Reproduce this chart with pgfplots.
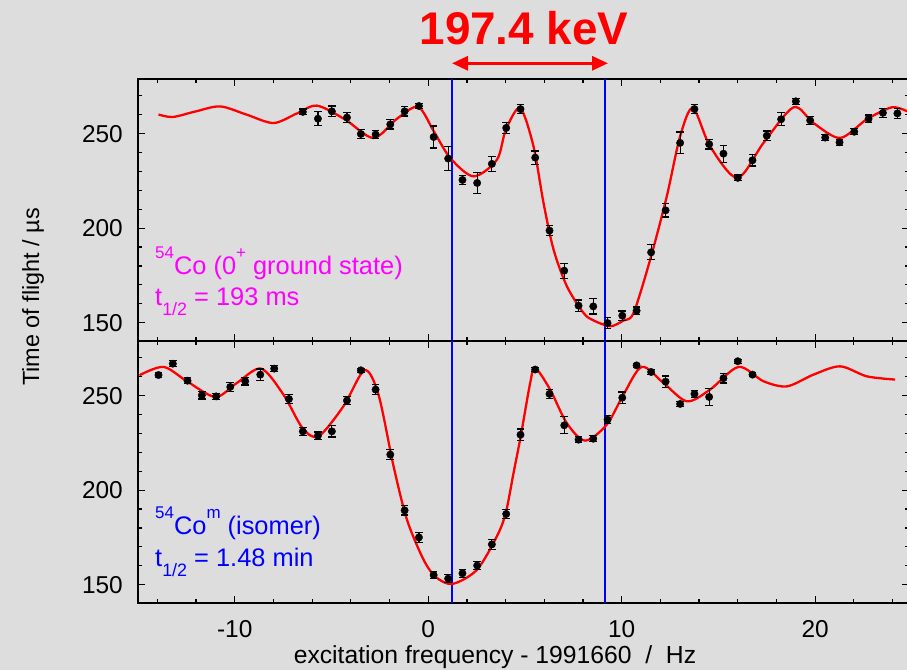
\documentclass[border=0pt]{standalone}
\usepackage{fontspec}
\setmainfont{Liberation Sans}
\usepackage{pgfplots}
\pgfplotsset{compat=1.18}
\usepackage{pgfplotstable}
\usetikzlibrary{arrows.meta}

\definecolor{bggray}{RGB}{221,221,221}
\definecolor{fitred}{RGB}{255,0,0}
\definecolor{lineblue}{RGB}{0,0,255}
\definecolor{gsmag}{RGB}{255,0,255}

\newcommand\fs[1]{\fontsize{#1}{#1}\selectfont}
\newcommand\sups[1]{\raisebox{0.66em}{\fs{17}#1}}
\newcommand\subs[1]{\raisebox{-0.36em}{\fs{18}#1}}

% ground state (top panel)
\pgfplotstableread{
x      y      e
-6.48  261.5  1.5
-5.70  257.9  3.7
-4.98  261.8  2.8
-4.20  258.5  2.5
-3.48  249.8  2.5
-2.72  249.5  2.0
-1.96  254.9  2.5
-1.22  261.8  2.5
-0.48  264.6  1.5
0.28   248.2  5.8
1.03   236.8  6.4
1.77   225.5  2.5
2.53   223.9  5.5
3.29   234.0  4.0
4.03   253.0  3.0
4.77   263.0  2.5
5.53   237.3  3.5
6.27   198.7  2.5
7.03   177.5  4.0
7.77   159.0  3.0
8.53   158.6  4.0
9.27   149.8  3.0
10.03  153.7  2.5
10.77  156.3  2.0
11.52  187.2  4.0
12.27  209.4  3.5
13.02  245.1  5.8
13.76  263.0  2.5
14.52  244.4  2.5
15.26  239.4  4.5
16.00  226.6  1.5
16.76  235.9  3.0
17.50  248.9  2.5
18.24  257.6  3.5
19.00  267.1  1.5
19.74  257.0  2.0
20.52  247.9  1.5
21.26  245.4  1.5
22.02  251.0  1.5
22.76  257.8  2.0
23.50  261.0  2.5
24.25  260.7  2.5
}\topdata

% isomer (bottom panel)
\pgfplotstableread{
x      y      e
-13.94 260.9  1.5
-13.20 266.9  1.5
-12.44 257.9  1.5
-11.70 250.2  2.0
-10.96 249.6  1.5
-10.23 254.6  2.5
-9.46  257.6  2.0
-8.68  261.1  3.0
-7.96  264.3  1.5
-7.20  248.2  2.5
-6.48  231.1  2.0
-5.70  228.8  2.0
-4.98  231.1  3.0
-4.20  247.4  2.0
-3.48  263.4  1.0
-2.72  253.2  2.5
-1.96  218.8  2.5
-1.22  189.3  2.5
-0.48  175.0  2.5
0.28   155.1  2.0
1.03   153.2  2.0
1.77   156.0  2.0
2.53   160.1  2.0
3.29   171.3  2.5
4.03   187.4  2.5
4.77   229.3  3.0
5.53   263.8  1.0
6.27   250.9  2.5
7.03   234.3  4.5
7.77   226.7  1.5
8.53   227.2  1.5
9.27   237.3  2.0
10.03  248.9  3.0
10.77  266.0  1.0
11.52  262.5  1.5
12.27  257.4  3.0
13.02  245.6  1.5
13.76  250.9  2.0
14.52  249.3  4.5
15.26  259.2  2.5
16.00  268.2  1.0
16.76  261.1  1.0
}\botdata

\pgfplotsset{
  panel/.style={
    scale only axis, width=771bp, height=262bp,
    xmin=-15, xmax=24.85, ymin=140.3, ymax=278.9,
    axis line style={line width=1.5bp, black},
    major tick length=7bp, minor tick length=4bp,
    every tick/.style={black, line width=1.2bp},
    xtick={-10,0,10,20},
    minor xtick={-14,-12,-8,-6,-4,-2,2,4,6,8,12,14,16,18,22,24},
    ytick={150,200,250},
    minor ytick={160,170,180,190,210,220,230,240,260,270},
    yticklabels={150,200,250},
    yticklabel style={anchor=east, inner sep=0pt, xshift=-15bp, font=\fs{24.5}},
  },
  datapts/.style={
    only marks, mark=*, mark size=3.7bp, black, mark options={fill=black},
    error bars/.cd, y dir=both, y explicit,
    error bar style={line width=1.2bp, black},
    error mark options={rotate=90, mark size=3.8bp, line width=1.2bp, black},
  },
  fit/.style={fitred, line width=2.3bp, smooth, no markers},
  marker line/.style={lineblue, line width=2.1bp, no markers},
}

\begin{document}
\begin{tikzpicture}
\useasboundingbox (0,0) rectangle (907bp,670bp);
\fill[bggray] (0,0) rectangle (907bp,670bp);
\clip (0,0) rectangle (907bp,670bp);

\begin{axis}[panel, at={(138bp,591bp)}, anchor=north west, xticklabels={}]
  \addplot[marker line] coordinates {(1.25,140.3) (1.25,278.9)};
  \addplot[marker line] coordinates {(9.15,140.3) (9.15,278.9)};
  \addplot[fit] coordinates {
    (-13.94,260.1) (-13.2,258.8) (-12.0,261.8) (-10.75,264.4) (-9.4,260.1)
    (-8.0,255.6) (-6.8,260.6) (-5.75,264.8) (-4.3,257.5) (-2.83,247.7)
    (-1.6,258) (-0.52,264.1) (0.3,251) (1.14,237.1) (2.34,227.4)
    (3.55,236.2) (4.01,252) (4.75,263.5) (5.44,243.3) (5.96,213.3)
    (6.48,188.6) (7.17,169.2) (8.03,155.1) (8.54,151.2) (9.41,148.1)
    (10.1,151.2) (10.61,155.1) (11.47,183.3) (12.33,216.8) (13.02,248.6)
    (13.68,263.5) (14.57,243.3) (15.98,226.6) (17.33,245.1) (18.88,263.9)
    (19.91,255.6) (21.29,247.7) (22.67,257.6) (23.96,263.9) (24.75,261.8)
  };
  \addplot[datapts] table[x=x, y=y, y error=e] {\topdata};
\end{axis}

\begin{axis}[panel, at={(138bp,329bp)}, anchor=north west,
    xticklabels={-10,0,10,20},
    xticklabel style={anchor=base, inner sep=0pt, yshift=-35bp, font=\fs{24.5}}]
  \addplot[marker line] coordinates {(1.25,140.3) (1.25,278.9)};
  \addplot[marker line] coordinates {(9.15,140.3) (9.15,278.9)};
  \addplot[fit] coordinates {
    (-14.92,260.8) (-13.68,265.2) (-12.47,257.6) (-11.0,249.3) (-9.89,256.7)
    (-8.64,264.3) (-7.48,250.5) (-6.5,232.9) (-5.67,228.5) (-4.38,244.4)
    (-3.29,263.4) (-2.57,250.5) (-1.79,212.6) (-1.10,184.4) (-0.24,163.2)
    (0.4,154) (1.26,150.4) (2.52,157.9) (3.55,175.6) (4.01,188)
    (4.41,209.1) (4.79,229) (5.27,256.7) (5.53,264.6) (6.3,253.2)
    (7.16,235.5) (8.11,226.2) (9.23,234.7) (10.09,250.5) (11.04,265.2)
    (12.16,256.7) (13.37,247) (14.57,253.2) (16.04,265.2) (17.33,257.6)
    (18.54,254.9) (19.91,261.1) (21.29,265.5) (22.67,260.2) (24.13,258.5)
  };
  \addplot[datapts] table[x=x, y=y, y error=e] {\botdata};
\end{axis}

% labels and annotations
\node[anchor=base, text=fitred, font=\fs{46}\bfseries] at (524bp,625bp) {197.4 keV};
\draw[fitred, line width=3bp, {Triangle[length=16bp,width=14bp]}-{Triangle[length=16bp,width=14bp]}]
  (452bp,606.7bp) -- (608bp,606.7bp);

\node[anchor=base west, inner sep=0pt, text=gsmag, font=\fs{25.5}] at (155bp,395bp)
  {\sups{54}Co (0\sups{+} ground state)};
\node[anchor=base west, inner sep=0pt, text=gsmag, font=\fs{25.5}] at (155bp,364bp)
  {t\subs{1/2} = 193 ms};
\node[anchor=base west, inner sep=0pt, text=lineblue, font=\fs{25.5}] at (155bp,135bp)
  {\sups{54}Co\sups{m} (isomer)};
\node[anchor=base west, inner sep=0pt, text=lineblue, font=\fs{25.5}] at (155bp,103bp)
  {t\subs{1/2} = 1.48 min};

\node[anchor=base, inner sep=0pt, font=\fs{24.8}] at (495bp,7bp)
  {excitation frequency - 1991660\ \ /\ \ Hz};
\node[rotate=90, anchor=base, inner sep=0pt, font=\fs{23.5}] at (39bp,373bp)
  {Time of flight / µs};
\end{tikzpicture}
\end{document}
